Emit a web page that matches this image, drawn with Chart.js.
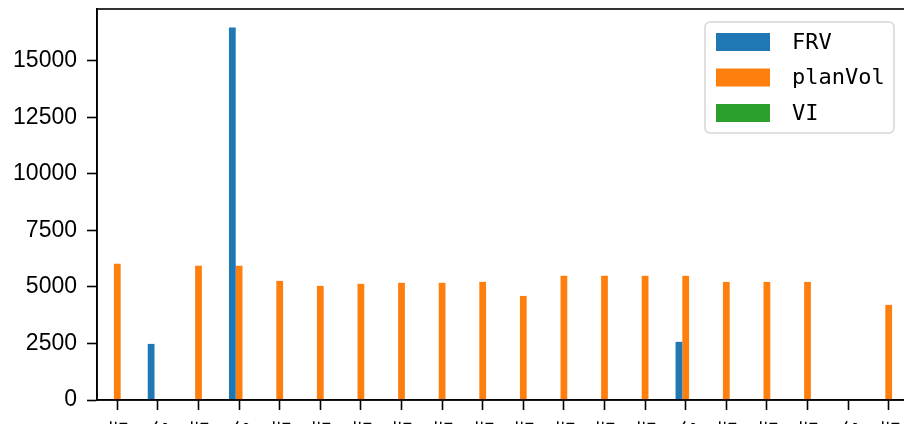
<!DOCTYPE html>
<html>
<head>
<meta charset="utf-8">
<script src="https://cdn.jsdelivr.net/npm/chart.js@4.4.1/dist/chart.umd.min.js"></script>
<style>
  html, body { margin: 0; padding: 0; background: #fff; overflow: hidden; width: 904px; height: 424px; }
  #wrap { position: absolute; left: 0; top: 0; }
</style>
</head>
<body>
<div id="wrap"><canvas id="chart" width="930" height="560"></canvas></div>
<script>
const categories = [
  '华东一店', '华东二仓', '华南一店', '华南二仓', '华北一店',
  '华北二店', '华中一店', '华中二店', '西南一店', '西南二店',
  '西北一店', '西北二店', '东北一店', '东北二店', '华东三仓',
  '华南三店', '华北三店', '华中三店', '西南三仓', '东北三店',
];
const frvValues = [null, 2480, null, 16460, null, null, null, null, null, null,
  null, null, null, null, 2570, null, null, null, null, null];
const planVolValues = [6020, null, 5930, 5930, 5265, 5045, 5135, 5180, 5180, 5220,
  4600, 5490, 5490, 5490, 5490, 5220, 5220, 5220, null, 4205];
const viValues = [null, null, null, null, null, null, null, null, null, null,
  null, null, null, null, null, null, null, null, null, null];
const yTicks = [0, 2500, 5000, 7500, 10000, 12500, 15000];
const yMax = 17283;

// legend inside the plot, top right, drawn like matplotlib's
const boxLegend = {
  id: 'boxLegend',
  afterDraw(chart) {
    const ctx = chart.ctx;
    const { left, top, right, bottom } = chart.chartArea;
    ctx.save();
    // frame round the plot
    ctx.strokeStyle = '#000';
    ctx.lineWidth = 1.6;
    ctx.strokeRect(left, top, right - left, bottom - top);

    const x = 705, y = 22, w = 189, h = 111;
    ctx.fillStyle = 'rgba(255,255,255,0.8)';
    ctx.strokeStyle = '#d6d6d6';
    ctx.lineWidth = 1.5;
    ctx.beginPath();
    ctx.roundRect(x, y, w, h, 5);
    ctx.fill();
    ctx.stroke();
    ctx.font = '22px "DejaVu Sans Mono"';
    ctx.textBaseline = 'middle';
    chart.data.datasets.forEach((ds, i) => {
      const cy = 42 + i * 35.5;
      ctx.fillStyle = ds.backgroundColor;
      ctx.fillRect(716, cy - 9, 54, 18);
      ctx.fillStyle = '#000';
      ctx.fillText(ds.label, 792, cy + 1);
    });
    ctx.restore();
  },
};

new Chart(document.getElementById('chart'), {
  type: 'bar',
  data: {
    labels: categories,
    datasets: [
      { label: 'FRV', data: frvValues, backgroundColor: '#1f77b4' },
      { label: 'planVol', data: planVolValues, backgroundColor: '#ff7f0e' },
      { label: 'VI', data: viValues, backgroundColor: '#2ca02c' },
    ],
  },
  options: {
    responsive: false,
    animation: false,
    devicePixelRatio: 1,
    layout: { padding: { top: 9, right: 21, left: 0, bottom: 0 } },
    datasets: { bar: { categoryPercentage: 0.5, barPercentage: 1.0, borderWidth: 0 } },
    plugins: { legend: { display: false }, tooltip: { enabled: false } },
    scales: {
      x: {
        offset: true,
        grid: { drawOnChartArea: false, offset: false, tickLength: 10, tickColor: '#000', tickWidth: 1.6 },
        border: { color: '#000', width: 1.6 },
        ticks: {
          autoSkip: false, minRotation: 90, maxRotation: 90, padding: 10,
          color: '#000', font: { family: '"Noto Sans CJK SC"', size: 21 },
        },
        afterFit(s) { s.height = 160; s.paddingLeft = 0; s.paddingRight = 0; },
      },
      y: {
        min: 0,
        max: yMax,
        grid: { drawOnChartArea: false, tickLength: 10, tickColor: '#000', tickWidth: 1.6 },
        border: { color: '#000', width: 1.6 },
        ticks: {
          includeBounds: false, padding: 10, color: '#000',
          font: { family: '"Liberation Sans"', size: 23 },
          callback: v => String(v),
        },
        afterBuildTicks(s) { s.ticks = yTicks.map(v => ({ value: v })); },
        afterFit(s) { s.width = 97; s.paddingTop = 0; s.paddingBottom = 0; },
      },
    },
  },
  plugins: [boxLegend],
});
</script>
</body>
</html>
